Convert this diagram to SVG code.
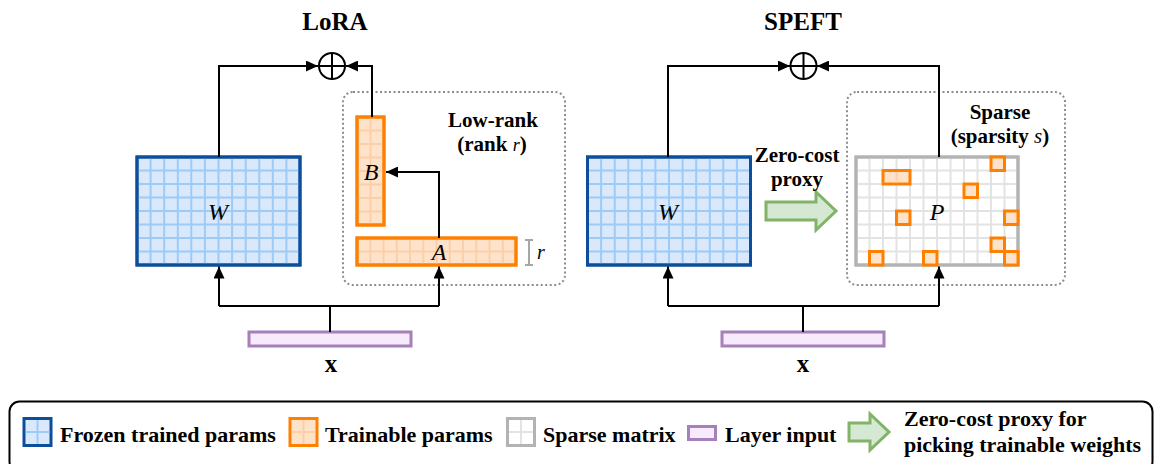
<svg xmlns="http://www.w3.org/2000/svg" width="1155" height="464" viewBox="0 0 1155 464">
<style>
text{font-family:"Liberation Serif","Times New Roman",serif;fill:#000}
.b{font-weight:bold;font-size:22px}
.b2{font-weight:bold;font-size:21px}
.t{font-weight:bold;font-size:25px}
.m{font-style:italic;font-size:24px}
.c{text-anchor:middle}
.wire{fill:none;stroke:#000;stroke-width:2}
.frz{fill:#dae8fc;stroke:#0b4f9c;stroke-width:3}
.frzg{fill:none;stroke:#9ccbf8;stroke-width:2}
.trn{fill:#fee3ca;stroke:#ff8000;stroke-width:3}
.trng{fill:none;stroke:#fbcfa8;stroke-width:2}
.spr{fill:#fff;stroke:#b3b3b3;stroke-width:3}
.sprg{fill:none;stroke:#e3e3e3;stroke-width:2}
.inp{fill:#f6eafc;stroke:#a680b8;stroke-width:3}
.dot{fill:none;stroke:#8c8c8c;stroke-width:2;stroke-dasharray:2 2.5}
.prx{fill:#d5e8d4;stroke:#82b366;stroke-width:3;stroke-linejoin:miter}
</style>
<defs>
<marker id="ah" viewBox="0 0 12 11" markerWidth="12" markerHeight="11" refX="12" refY="5.5" orient="auto" markerUnits="userSpaceOnUse">
<path d="M0,0 L12,5.5 L0,11 z" fill="#000"/>
</marker>
</defs>

<g id="titles">
<text class="t c" x="335" y="30">LoRA</text>
<text class="t c" x="803" y="30">SPEFT</text>
</g>

<!-- LoRA -->
<g id="lora-box">
<rect class="dot" x="343" y="92" width="222" height="193" rx="10"/>
<text class="b2 c" x="493" y="127">Low-rank</text>
<text class="b2 c" x="492" y="151">(rank <tspan font-style="italic" font-weight="normal" font-size="18">r</tspan>)</text>
</g>
<g id="lora-W">
<rect class="frz" x="137" y="157" width="163" height="108"/>
<path class="frzg" d="M150.6,158.5V263.5M164.2,158.5V263.5M177.8,158.5V263.5M191.3,158.5V263.5M204.9,158.5V263.5M218.5,158.5V263.5M232.1,158.5V263.5M245.7,158.5V263.5M259.3,158.5V263.5M272.8,158.5V263.5M286.4,158.5V263.5M138.5,170.5H298.5M138.5,184H298.5M138.5,197.5H298.5M138.5,211H298.5M138.5,224.5H298.5M138.5,238H298.5M138.5,251.5H298.5"/>
<rect x="137" y="157" width="163" height="108" fill="none" stroke="#0b4f9c" stroke-width="3"/>
<text class="m c" x="218" y="220">W</text>
</g>
<g id="lora-B">
<rect class="trn" x="357" y="117" width="27" height="108"/>
<path class="trng" d="M370.5,118.5V223.5M358.5,130.5H382.5M358.5,144H382.5M358.5,157.5H382.5M358.5,171H382.5M358.5,184.5H382.5M358.5,198H382.5M358.5,211.5H382.5"/>
<rect x="357" y="117" width="27" height="108" fill="none" stroke="#ff8000" stroke-width="3"/>
<text class="m c" x="371" y="180">B</text>
</g>
<g id="lora-A">
<rect class="trn" x="357" y="238" width="159" height="27"/>
<path class="trng" d="M370.3,239.5V263.5M383.5,239.5V263.5M396.8,239.5V263.5M410,239.5V263.5M423.3,239.5V263.5M436.5,239.5V263.5M449.8,239.5V263.5M463,239.5V263.5M476.3,239.5V263.5M489.5,239.5V263.5M502.8,239.5V263.5M358.5,251.5H514.5"/>
<rect x="357" y="238" width="159" height="27" fill="none" stroke="#ff8000" stroke-width="3"/>
<text class="m c" x="439" y="260">A</text>
</g>
<g id="lora-rank">
<path d="M525,240H533M529,240V265M525,265H533" fill="none" stroke="#a6a6a6" stroke-width="2"/>
<text x="537" y="259" font-style="italic" font-size="20">r</text>
</g>
<g id="lora-sum">
<circle cx="332" cy="66" r="13" fill="#fff" stroke="#000" stroke-width="2"/>
<path d="M319,66H345M332,53V79" stroke="#000" stroke-width="2"/>
</g>
<g id="lora-input">
<rect class="inp" x="249" y="332" width="162" height="14"/>
<text class="c" x="331" y="372" font-weight="bold" font-size="25">x</text>
</g>

<!-- SPEFT -->
<g id="speft-box">
<rect class="dot" x="847" y="92" width="218" height="193" rx="10"/>
<text class="b2 c" x="1000" y="119">Sparse</text>
<text class="b2 c" x="1000" y="143">(sparsity <tspan font-style="italic" font-weight="normal">s</tspan>)</text>
</g>
<g id="speft-W">
<rect class="frz" x="587.5" y="157" width="163" height="108"/>
<path class="frzg" d="M601.1,158.5V263.5M614.7,158.5V263.5M628.3,158.5V263.5M641.8,158.5V263.5M655.4,158.5V263.5M669,158.5V263.5M682.6,158.5V263.5M696.2,158.5V263.5M709.8,158.5V263.5M723.3,158.5V263.5M736.9,158.5V263.5M589,170.5H749M589,184H749M589,197.5H749M589,211H749M589,224.5H749M589,238H749M589,251.5H749"/>
<rect x="587.5" y="157" width="163" height="108" fill="none" stroke="#0b4f9c" stroke-width="3"/>
<text class="m c" x="668" y="220">W</text>
</g>
<g id="speft-proxy">
<polygon class="prx" points="766,202 816,202 816,192 836,211 816,230 816,220 766,220"/>
<text class="b2 c" x="797" y="162">Zero-cost</text>
<text class="b2 c" x="797" y="186">proxy</text>
</g>
<g id="speft-P">
<rect class="spr" x="856" y="157" width="162" height="108"/>
<path class="sprg" d="M869.5,158.5V263.5M883,158.5V263.5M896.5,158.5V263.5M910,158.5V263.5M923.5,158.5V263.5M937,158.5V263.5M950.5,158.5V263.5M964,158.5V263.5M977.5,158.5V263.5M991,158.5V263.5M1004.5,158.5V263.5M857.5,170.5H1016.5M857.5,184H1016.5M857.5,197.5H1016.5M857.5,211H1016.5M857.5,224.5H1016.5M857.5,238H1016.5M857.5,251.5H1016.5"/>
<rect x="856" y="157" width="162" height="108" fill="none" stroke="#b3b3b3" stroke-width="3"/>
<g class="trn">
<rect x="991" y="157" width="13.5" height="13.5"/>
<rect x="883" y="170.5" width="27" height="13.5"/>
<rect x="964" y="184" width="13.5" height="13.5"/>
<rect x="896.5" y="211" width="13.5" height="13.5"/>
<rect x="1004.5" y="211" width="13.5" height="13.5"/>
<rect x="991" y="238" width="13.5" height="13.5"/>
<rect x="1004.5" y="251.5" width="13.5" height="13.5"/>
<rect x="869.5" y="251.5" width="13.5" height="13.5"/>
<rect x="923.5" y="251.5" width="13.5" height="13.5"/>
</g>
<path d="M896.5,172V182.5" stroke="#fbcfa8" stroke-width="2"/>
<text class="m c" x="937" y="220">P</text>
</g>
<g id="speft-sum">
<circle cx="803.5" cy="66" r="13" fill="#fff" stroke="#000" stroke-width="2"/>
<path d="M790.5,66H816.5M803.5,53V79" stroke="#000" stroke-width="2"/>
</g>
<g id="speft-input">
<rect class="inp" x="722" y="332" width="162" height="14"/>
<text class="c" x="803" y="372" font-weight="bold" font-size="25">x</text>
</g>

<g id="connectors">
<path class="wire" d="M219,157V66H318" marker-end="url(#ah)"/>
<path class="wire" d="M372,117V66H346" marker-end="url(#ah)"/>
<path class="wire" d="M439,238V172H386" marker-end="url(#ah)"/>
<path class="wire" d="M219,306H439"/>
<path class="wire" d="M330,306V332"/>
<path class="wire" d="M219,306V266.5" marker-end="url(#ah)"/>
<path class="wire" d="M439,306V266.5" marker-end="url(#ah)"/>
<path class="wire" d="M668,157V66H790" marker-end="url(#ah)"/>
<path class="wire" d="M939,157V66H817" marker-end="url(#ah)"/>
<path class="wire" d="M668,306H939"/>
<path class="wire" d="M803,306V332"/>
<path class="wire" d="M668,306V266.5" marker-end="url(#ah)"/>
<path class="wire" d="M939,306V266.5" marker-end="url(#ah)"/>
</g>

<g id="legend">
<rect x="9.5" y="401.5" width="1143" height="70" rx="10" fill="none" stroke="#000" stroke-width="2"/>
<rect class="frz" x="24" y="418.5" width="27" height="27"/>
<path class="frzg" d="M37.5,420V444M25.5,432H49.5"/>
<text class="b" x="60" y="442">Frozen trained params</text>
<rect class="trn" x="290" y="418.5" width="27" height="27"/>
<path class="trng" d="M303.5,420V444M291.5,432H315.5"/>
<text class="b" x="325" y="442">Trainable params</text>
<rect class="spr" x="507.5" y="418.5" width="27" height="27"/>
<path class="sprg" d="M521,420V444M509,432H533"/>
<text class="b" x="543" y="442">Sparse matrix</text>
<rect class="inp" x="688.5" y="426.5" width="27" height="13"/>
<text class="b" x="725" y="442">Layer input</text>
<polygon class="prx" points="849,423 870,423 870,414 889,432 870,450 870,441 849,441"/>
<text class="b" x="904" y="426">Zero-cost proxy for</text>
<text class="b" x="904" y="452">picking trainable weights</text>
</g>
</svg>
